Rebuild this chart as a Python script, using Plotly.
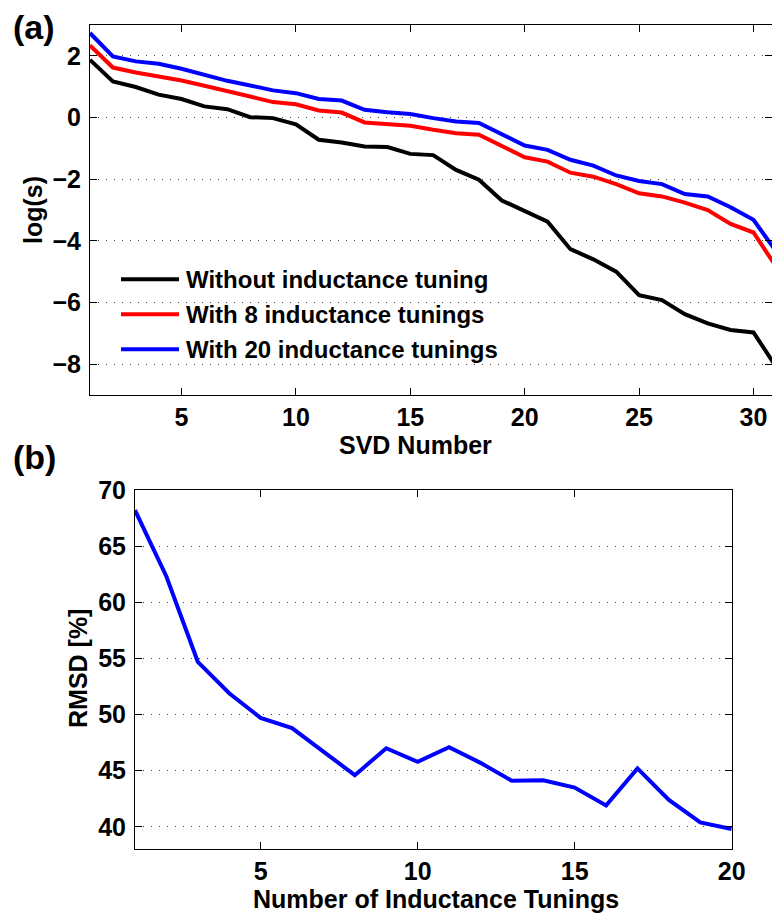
import plotly.graph_objects as go

W, H = 772, 916

# ---------------- data ----------------
svd_n = list(range(1, 32))
without_tuning = [1.87, 1.17, 0.99, 0.74, 0.60, 0.36, 0.27, 0.01, -0.02, -0.22,
                  -0.72, -0.81, -0.94, -0.96, -1.18, -1.22, -1.70, -2.02, -2.69, -3.02,
                  -3.38, -4.27, -4.60, -5.00, -5.76, -5.92, -6.38, -6.68, -6.89, -6.97,
                  -8.10]
with_8 = [2.34, 1.62, 1.46, 1.33, 1.20, 1.03, 0.84, 0.68, 0.50, 0.43,
          0.23, 0.16, -0.16, -0.20, -0.27, -0.40, -0.51, -0.56, -0.94, -1.29,
          -1.43, -1.79, -1.92, -2.16, -2.46, -2.56, -2.76, -3.00, -3.45, -3.73,
          -4.85]
with_20 = [2.74, 1.98, 1.82, 1.74, 1.58, 1.39, 1.19, 1.04, 0.88, 0.79,
           0.60, 0.55, 0.25, 0.17, 0.11, -0.02, -0.13, -0.18, -0.54, -0.91,
           -1.05, -1.37, -1.56, -1.88, -2.06, -2.16, -2.48, -2.56, -2.91, -3.32,
           -4.35]
series_names = ["Without inductance tuning", "With 8 inductance tunings", "With 20 inductance tunings"]
series_colors = ["#000000", "#ff0000", "#0000ff"]

n_tunings = list(range(1, 21))
rmsd = [68.2, 62.3, 54.7, 51.9, 49.7, 48.8, 46.7, 44.6, 47.0, 45.8,
        47.1, 45.7, 44.1, 44.15, 43.5, 41.9, 45.2, 42.4, 40.4, 39.8]

top_xticks = [5, 10, 15, 20, 25, 30]
top_yticks = [-8, -6, -4, -2, 0, 2]
bot_xticks = [5, 10, 15, 20]
bot_yticks = [40, 45, 50, 55, 60, 65, 70]

FONT = "Liberation Sans, Arial, Helvetica, sans-serif"


def px_x(p):
    return p / W


def px_y(p):
    return 1 - p / H


fig = go.Figure()
for name, vals, col in zip(series_names, [without_tuning, with_8, with_20], series_colors):
    fig.add_trace(go.Scatter(x=svd_n, y=vals, mode="lines", name=name,
                             line=dict(color=col, width=4), showlegend=False,
                             xaxis="x", yaxis="y"))
fig.add_trace(go.Scatter(x=n_tunings, y=rmsd, mode="lines", name="RMSD",
                         line=dict(color="#0000ff", width=4), showlegend=False,
                         xaxis="x2", yaxis="y2"))

tickfont = dict(family=FONT, size=25, color="black", weight="bold")
common = dict(showline=True, linecolor="black", linewidth=1, ticks="inside",
              ticklen=7, tickcolor="black", tickwidth=1, tickfont=tickfont,
              zeroline=False, automargin=False)

fig.update_layout(
    width=W, height=H, autosize=False,
    margin=dict(l=0, r=0, t=0, b=0, pad=0, autoexpand=False),
    paper_bgcolor="white", plot_bgcolor="white",
    xaxis=dict(domain=[px_x(90), 1.0], range=[1, 30.81], tickvals=top_xticks,
               showgrid=False, mirror="ticks", anchor="y", **common),
    yaxis=dict(domain=[px_y(395), px_y(25)], range=[-9, 3], tickvals=top_yticks,
               showgrid=True, gridcolor="#444444", gridwidth=1, griddash="1px,7px",
               mirror="ticks", anchor="x", ticklabelstandoff=3, **common),
    xaxis2=dict(domain=[px_x(135), px_x(731.7)], range=[1, 20], tickvals=bot_xticks,
                showgrid=False, mirror="ticks", anchor="y2", **common),
    yaxis2=dict(domain=[px_y(849.3), px_y(490)], range=[38, 70], tickvals=bot_yticks,
                showgrid=True, gridcolor="#444444", gridwidth=1, griddash="1px,7px",
                mirror="ticks", anchor="x2", ticklabelstandoff=3, **common),
)

# legend drawn with long line samples like the original
legend_rows = [279.3, 314.3, 349.3]
shapes = []
annotations = []
for name, col, yrow in zip(series_names, series_colors, legend_rows):
    shapes.append(dict(type="line", xref="paper", yref="paper",
                       x0=px_x(121), x1=px_x(179), y0=px_y(yrow), y1=px_y(yrow),
                       line=dict(color=col, width=4)))
    annotations.append(dict(text=name, xref="paper", yref="paper",
                            x=px_x(184), y=px_y(yrow), xanchor="left", yanchor="middle",
                            showarrow=False, font=dict(family=FONT, size=24, color="black", weight="bold")))

labfont = dict(family=FONT, size=25, color="black", weight="bold")
panfont = dict(family=FONT, size=34, color="black", weight="bold")
annotations += [
    dict(text="(a)", x=px_x(11), y=px_y(27), xanchor="left", yanchor="middle", font=panfont),
    dict(text="(b)", x=px_x(11), y=px_y(457), xanchor="left", yanchor="middle", font=panfont),
    dict(text="log(s)", x=px_x(33), y=px_y(210), xanchor="center", yanchor="middle",
         textangle=-90, font=labfont),
    dict(text="SVD Number", x=px_x(415), y=px_y(445), xanchor="center", yanchor="middle", font=labfont),
    dict(text="RMSD [%]", x=px_x(78), y=px_y(669), xanchor="center", yanchor="middle",
         textangle=-90, font=labfont),
    dict(text="Number of Inductance Tunings", x=px_x(436), y=px_y(899), xanchor="center",
         yanchor="middle", font=labfont),
]
for a in annotations:
    a.setdefault("xref", "paper")
    a.setdefault("yref", "paper")
    a.setdefault("showarrow", False)

fig.update_layout(shapes=shapes, annotations=annotations)
fig.write_html("out.html",
               post_script="document.body.style.margin='0';document.body.style.overflow='hidden';")
